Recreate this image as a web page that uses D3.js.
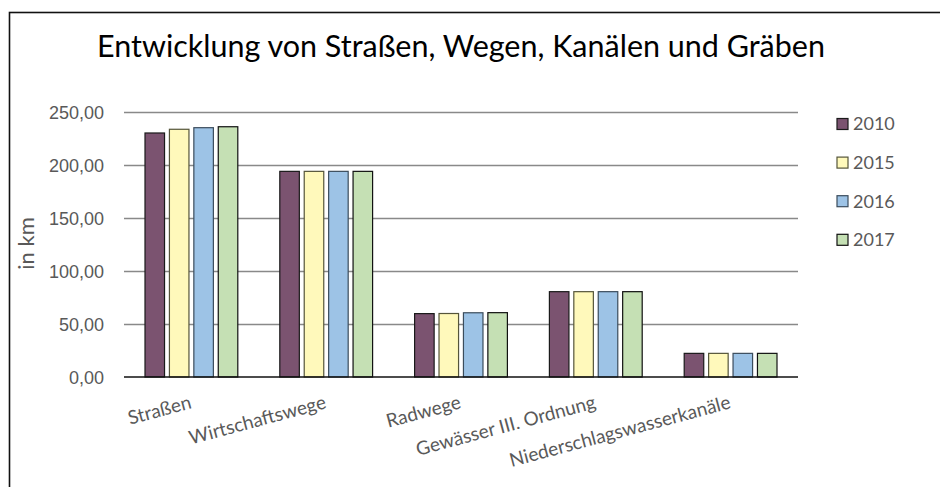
<!DOCTYPE html>
<html lang="de">
<head>
<meta charset="utf-8">
<title>Entwicklung von Straßen, Wegen, Kanälen und Gräben</title>
<script src="https://cdn.jsdelivr.net/npm/d3@7"></script>
<style>
  html, body { margin: 0; padding: 0; background: #fff; }
  svg { display: block; font-family: Lato, "Open Sans", sans-serif; }
  .tick-label, .x-label, .legend-label, .y-title { fill: #595959; }
</style>
</head>
<body>
<svg id="chart" width="940" height="487"></svg>
<script>
// ── Data ─────────────────────────────────────────────────────────────────────

const categories = ["Straßen", "Wirtschaftswege", "Radwege", "Gewässer III. Ordnung", "Niederschlagswasserkanäle"];
const years      = ["2010", "2015", "2016", "2017"];
const v2010      = [230.2, 194.0, 59.8, 80.5, 22.3];
const v2015      = [233.7, 194.0, 59.9, 80.5, 22.3];
const v2016      = [235.2, 194.0, 60.6, 80.5, 22.3];
const v2017      = [236.1, 194.0, 60.7, 80.5, 22.3];
const yTicks     = [0, 50, 100, 150, 200, 250];

const seriesValues = [v2010, v2015, v2016, v2017];
const fills   = ["#7b5370", "#fff9bb", "#9dc3e6", "#c5e0b4"];
const strokes = ["#1a1a1a", "#55553a", "#3b4c5c", "#111111"];

// ── Layout ───────────────────────────────────────────────────────────────────

const svg = d3.select("#chart");
const M = { left: 124, right: 798, top: 112, bottom: 377 };

const x0 = d3.scaleBand().domain(categories).range([M.left, M.right]);
const x1 = d3.scaleBand().domain(years).range([0, x0.bandwidth()])
  .paddingInner(0.2).paddingOuter(0.86);
const y  = d3.scaleLinear().domain([0, 250]).range([M.bottom, M.top]);
const fmt = v => d3.format(".2f")(v).replace(".", ",");

// Outer frame (runs off the right / bottom edge in the reference)
svg.append("rect")
  .attr("x", 9.5).attr("y", 12.5)
  .attr("width", 1000).attr("height", 1000)
  .attr("fill", "none").attr("stroke", "#111").attr("stroke-width", 1.6);

// Title – scaled to the reference width
const title = svg.append("text")
  .attr("x", 97).attr("y", 57)
  .attr("font-size", 28).attr("fill", "#000")
  .text("Entwicklung von Straßen, Wegen, Kanälen und Gräben");
const tw = title.node().getComputedTextLength();
title.attr("font-size", 28 * 728 / tw);

// ── Grid + y axis ────────────────────────────────────────────────────────────

const yAxis = svg.append("g")
  .attr("transform", `translate(${M.left},0)`)
  .call(d3.axisLeft(y).tickValues(yTicks).tickSize(-(M.right - M.left)).tickFormat(fmt));
yAxis.select(".domain").remove();
yAxis.selectAll(".tick line")
  .attr("stroke", d => d === 0 ? "none" : "#898989")
  .attr("stroke-width", 1.5);
yAxis.selectAll(".tick text")
  .attr("class", "tick-label")
  .attr("x", -20).attr("dy", "0.34em")
  .attr("font-size", 18).attr("font-family", null).attr("fill", null);

svg.append("text")
  .attr("class", "y-title")
  .attr("transform", `translate(34,${(M.top + M.bottom) / 2 - 1}) rotate(-90)`)
  .attr("text-anchor", "middle")
  .attr("font-size", 22)
  .text("in km");

// ── Bars ─────────────────────────────────────────────────────────────────────

const groups = svg.append("g").selectAll("g")
  .data(categories)
  .join("g")
  .attr("transform", d => `translate(${x0(d)},0)`);

groups.selectAll("rect")
  .data((c, ci) => years.map((yr, si) => ({ yr, si, v: seriesValues[si][ci] })))
  .join("rect")
  .attr("x", d => x1(d.yr))
  .attr("y", d => y(d.v))
  .attr("width", x1.bandwidth())
  .attr("height", d => y(0) - y(d.v))
  .attr("fill", d => fills[d.si])
  .attr("stroke", d => strokes[d.si])
  .attr("stroke-width", 1.2);

// x axis line
svg.append("line")
  .attr("x1", M.left).attr("x2", M.right)
  .attr("y1", y(0)).attr("y2", y(0))
  .attr("stroke", "#111").attr("stroke-width", 1.4);

// Rotated category labels, end anchored at category centre
svg.append("g").selectAll("text")
  .data(categories)
  .join("text")
  .attr("class", "x-label")
  .attr("text-anchor", "end")
  .attr("font-size", 19)
  .attr("transform", d => `translate(${x0(d) + x0.bandwidth() / 2 + 1},408) rotate(-15)`)
  .text(d => d);

// ── Legend ───────────────────────────────────────────────────────────────────

const legend = svg.append("g").selectAll("g")
  .data(years)
  .join("g")
  .attr("transform", (d, i) => `translate(837,${124 + i * 38.6})`);

legend.append("rect")
  .attr("x", 0).attr("y", -5.5)
  .attr("width", 11).attr("height", 11)
  .attr("fill", (d, i) => fills[i])
  .attr("stroke", (d, i) => strokes[i])
  .attr("stroke-width", 1.2);

legend.append("text")
  .attr("class", "legend-label")
  .attr("x", 16).attr("dy", "0.36em")
  .attr("font-size", 18)
  .text(d => d);
</script>
</body>
</html>
